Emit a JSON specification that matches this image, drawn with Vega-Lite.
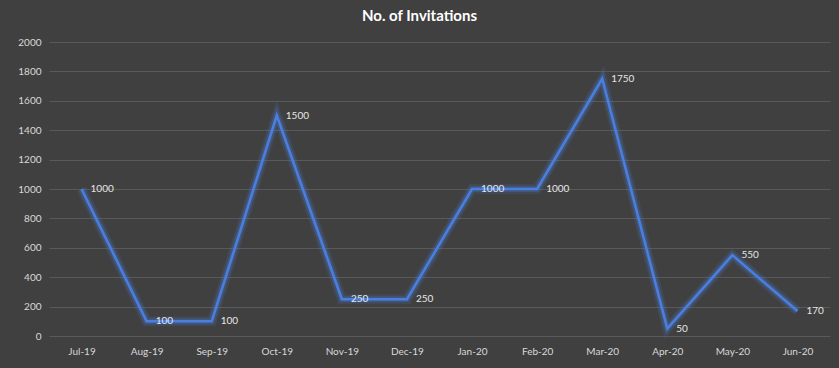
{
  "$schema": "https://vega.github.io/schema/vega-lite/v6.json",
  "width": 781,
  "height": 294,
  "autosize": {"type": "none"},
  "padding": {"left": 49, "top": 42, "right": 9, "bottom": 32},
  "background": "#404040",
  "title": {
    "text": "No. of Invitations",
    "font": "Lato",
    "fontSize": 15,
    "fontWeight": "bold",
    "color": "#ffffff",
    "anchor": "middle",
    "frame": "group",
    "dx": -20,
    "offset": 13
  },
  "config": {
    "view": {"stroke": null},
    "font": "Lato",
    "axis": {
      "labelFont": "Lato",
      "labelFontSize": 10,
      "labelColor": "#d9d9d9",
      "domain": false,
      "ticks": false,
      "title": null
    }
  },
  "data": {
    "values": [
      {"month": "Jul-19", "value": 1000},
      {"month": "Aug-19", "value": 100},
      {"month": "Sep-19", "value": 100},
      {"month": "Oct-19", "value": 1500},
      {"month": "Nov-19", "value": 250},
      {"month": "Dec-19", "value": 250},
      {"month": "Jan-20", "value": 1000},
      {"month": "Feb-20", "value": 1000},
      {"month": "Mar-20", "value": 1750},
      {"month": "Apr-20", "value": 50},
      {"month": "May-20", "value": 550},
      {"month": "Jun-20", "value": 170}
    ]
  },
  "encoding": {
    "x": {
      "field": "month",
      "type": "ordinal",
      "sort": null,
      "scale": {"type": "point", "padding": 0.5},
      "axis": {"labelAngle": 0, "labelPadding": 10, "grid": false}
    },
    "y": {
      "field": "value",
      "type": "quantitative",
      "scale": {"domain": [0, 2000], "nice": false},
      "axis": {
        "values": [0, 200, 400, 600, 800, 1000, 1200, 1400, 1600, 1800, 2000],
        "format": "d",
        "grid": true,
        "gridColor": "#595959",
        "gridWidth": 1,
        "labelPadding": 8
      }
    }
  },
  "layer": [
    {"mark": {"type": "line", "color": "#4a7fe0", "strokeWidth": 10, "opacity": 0.14, "strokeJoin": "miter"}},
    {"mark": {"type": "line", "color": "#4a7fe0", "strokeWidth": 6, "opacity": 0.25, "strokeJoin": "miter"}},
    {"mark": {"type": "line", "color": "#4a7fe0", "strokeWidth": 2.5, "strokeJoin": "miter"}},
    {
      "mark": {"type": "text", "align": "left", "baseline": "middle", "dx": 9, "fontSize": 10, "color": "#e6e6e6", "font": "Lato"},
      "encoding": {"text": {"field": "value", "type": "quantitative", "format": "d"}}
    }
  ]
}
